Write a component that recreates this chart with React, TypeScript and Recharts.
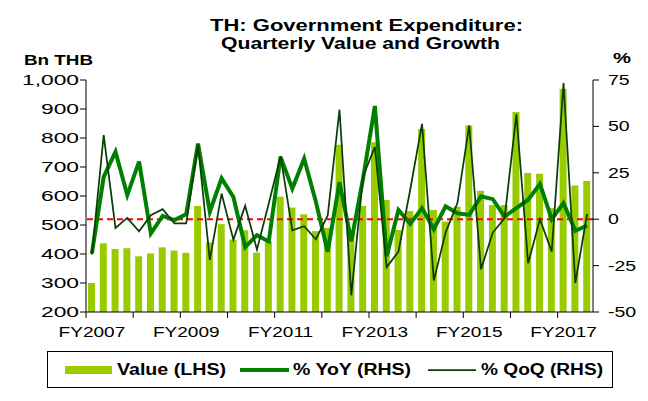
import React from 'react'
import { ComposedChart, Bar, Line, XAxis, YAxis, ReferenceLine } from 'recharts'

// Thai fiscal quarters FY2007 Q1 .. FY2017 Q3
const quarters: string[] = []
for (let fy = 2007; fy <= 2017; fy++) {
  for (let q = 1; q <= 4; q++) {
    if (fy === 2017 && q > 3) break
    quarters.push(`FY${fy} Q${q}`)
  }
}

// Bn THB (LHS)
const value = [
  300, 437, 417, 420, 392, 402, 423, 412, 404, 566, 440, 503, 450, 482, 404, 444,
  598, 560, 537, 479, 490, 777, 470, 566, 785, 586, 483, 548, 831, 552, 512, 563,
  843, 618, 569, 569, 890, 679, 677, 558, 970, 636, 652,
]
// % YoY (RHS)
const yoy = [
  -18.5, 22.8, 36.3, 13, 31, -7.7, 1.8, -0.5, 2.7, 40.8, 4, 22, 12, -15, -8.6, -12,
  33.6, 16.5, 32.7, 9.3, -17.5, 20, -12, 22, 61, -20, 5, -2.5, 6, -5.4, 6.9, 3.2,
  2.3, 12.3, 10.8, 1.4, 6, 10.5, 19, 0, 8.7, -6.3, -3.4,
]
// % QoQ (RHS)
const qoq = [
  -19, 45.3, -4.7, 0.7, -6.5, 2.2, 5.4, -2.3, -2.3, 40, -22, 13.8, -11, 7.2, -16.4, 8.5,
  34, -6, -3.8, -10.8, 2, 59, -41, 23, 39, -25.8, -17.5, 16, 51.4, -33, -7.2, 8.7,
  50.5, -27, -7.2, 0.5, 56.5, -23.8, 0, -17.5, 73.4, -34.4, 2.9,
]

const leftTicks = [200, 300, 400, 500, 600, 700, 800, 900, 1000]
const rightTicks = [-50, -25, 0, 25, 50, 75]

const data = quarters.map((q, i) => ({ q, value: value[i], yoy: yoy[i], qoq: qoq[i] }))

const W = 648
const H = 401
const PLOT_LEFT = 86
const PLOT_RIGHT = 593
const PLOT_TOP = 80
const PLOT_BOTTOM = 312
const BAND = (PLOT_RIGHT - PLOT_LEFT) / quarters.length
const SX = 1.27
const FONT = '"Liberation Sans", Arial, sans-serif'

const XTick = (props: any) => {
  const { x, index, payload } = props
  const i = index ?? payload.index
  const edge = x - BAND / 2
  return (
    <g>
      {i % 4 === 0 && (
        <line x1={edge} x2={edge} y1={PLOT_BOTTOM} y2={PLOT_BOTTOM + 6} stroke="#000" />
      )}
      {i % 8 === 0 && (
        <text
          transform={`translate(${x} 337) scale(${SX} 1)`}
          textAnchor="middle"
          fontSize={15}
          fill="#000"
        >
          {String(payload.value).slice(0, 6)}
        </text>
      )}
    </g>
  )
}

const LeftTick = ({ y, payload }: any) => (
  <text transform={`translate(79 ${y + 5}) scale(1.52 1)`} textAnchor="end" fontSize={15} fill="#000">
    {payload.value.toLocaleString('en-US')}
  </text>
)

const RightTick = ({ y, payload }: any) => (
  <text transform={`translate(608 ${y + 5}) scale(1.3 1)`} textAnchor="start" fontSize={15} fill="#000">
    {payload.value}
  </text>
)

export default function App() {
  return (
    <div style={{ position: 'relative', width: W, height: H, margin: -8, background: '#fff', fontFamily: FONT }}>
      <ComposedChart
        width={W}
        height={H}
        data={data}
        margin={{ top: PLOT_TOP, right: 0, bottom: 59, left: 0 }}
        barSize={7}
        style={{ fontFamily: FONT }}
      >
        <XAxis
          dataKey="q"
          height={30}
          interval={0}
          tickLine={false}
          axisLine={{ stroke: '#000' }}
          tick={<XTick />}
        />
        <YAxis
          yAxisId="left"
          width={86}
          domain={[200, 1000]}
          ticks={leftTicks}
          axisLine={{ stroke: '#000' }}
          tickLine={{ stroke: '#000' }}
          tick={<LeftTick />}
        />
        <YAxis
          yAxisId="right"
          orientation="right"
          width={55}
          domain={[-50, 75]}
          ticks={rightTicks}
          axisLine={{ stroke: '#000' }}
          tickLine={{ stroke: '#000' }}
          tick={<RightTick />}
        />
        <Bar yAxisId="left" dataKey="value" fill="#99CC00" isAnimationActive={false} />
        <ReferenceLine yAxisId="right" y={0} stroke="#FF0000" strokeWidth={2} strokeDasharray="6 4" />
        <Line
          yAxisId="right"
          type="linear"
          dataKey="yoy"
          stroke="#008000"
          strokeWidth={4}
          dot={false}
          isAnimationActive={false}
        />
        <Line
          yAxisId="right"
          type="linear"
          dataKey="qoq"
          stroke="#0B3D0B"
          strokeWidth={1.75}
          dot={false}
          isAnimationActive={false}
        />
      </ComposedChart>

      <svg
        width={W}
        height={H}
        style={{ position: 'absolute', left: 0, top: 0, pointerEvents: 'none', fontFamily: FONT }}
      >
        <path d={`M4.5 ${H} V4.5 H${W}`} fill="none" stroke="#8c8c8c" strokeWidth={1} />
        <text x={210} y={31} fontSize={16.5} fontWeight="bold" textLength={313} lengthAdjust="spacingAndGlyphs">
          TH: Government Expenditure:
        </text>
        <text x={221} y={49} fontSize={16.5} fontWeight="bold" textLength={279} lengthAdjust="spacingAndGlyphs">
          Quarterly Value and Growth
        </text>
        <text x={24} y={65} fontSize={14.5} fontWeight="bold" textLength={69} lengthAdjust="spacingAndGlyphs">
          Bn THB
        </text>
        <text x={613} y={63} fontSize={15} fontWeight="bold" textLength={18} lengthAdjust="spacingAndGlyphs">
          %
        </text>

        <rect x={47.5} y={351.5} width={565} height={36} fill="#fff" stroke="#000" strokeWidth={1} />
        <rect x={65} y={366} width={47} height={8} fill="#99CC00" />
        <text x={117} y={375} fontSize={16} fontWeight="bold" textLength={109} lengthAdjust="spacingAndGlyphs">
          Value (LHS)
        </text>
        <line x1={240} x2={289} y1={370} y2={370} stroke="#008000" strokeWidth={4} />
        <text x={293} y={375} fontSize={16} fontWeight="bold" textLength={118} lengthAdjust="spacingAndGlyphs">
          % YoY (RHS)
        </text>
        <line x1={428} x2={476} y1={370} y2={370} stroke="#0B3D0B" strokeWidth={1.75} />
        <text x={481} y={375} fontSize={16} fontWeight="bold" textLength={122} lengthAdjust="spacingAndGlyphs">
          % QoQ (RHS)
        </text>
      </svg>
    </div>
  )
}
